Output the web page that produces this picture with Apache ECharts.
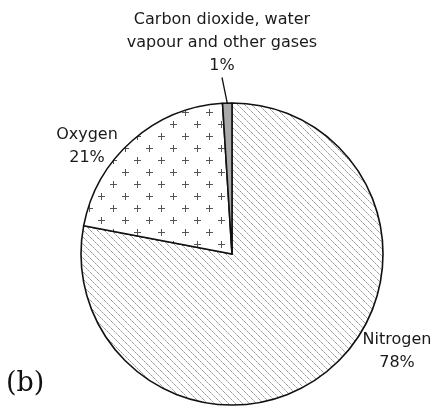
<!DOCTYPE html>
<html>
<head>
<meta charset="utf-8">
<script src="https://cdn.jsdelivr.net/npm/echarts@6/dist/echarts.min.js"></script>
<style>
  html, body { margin: 0; padding: 0; background: #fff; }
  #chart { width: 436px; height: 408px; }
</style>
</head>
<body>
<div id="chart"></div>
<script>
// Composition of air (percent by volume)
const gases = ['Nitrogen', 'Oxygen', 'Carbon dioxide, water\nvapour and other gases'];
const percents = [78, 21, 1];

// Fill textures
function hatchPattern() {
  const c = document.createElement('canvas');
  c.width = 7; c.height = 7;
  const g = c.getContext('2d');
  g.fillStyle = '#fff';
  g.fillRect(0, 0, 7, 7);
  for (let i = 0; i < 7; i++) {
    g.fillStyle = i % 2 === 0 ? '#9c9c9c' : '#c4c4c4';
    g.fillRect(i, i, 1, 1);
  }
  return c;
}
function plusPattern() {
  const c = document.createElement('canvas');
  c.width = 24; c.height = 24;
  const g = c.getContext('2d');
  g.fillStyle = '#fff';
  g.fillRect(0, 0, 24, 24);
  g.fillStyle = '#555';
  const plus = (x, y) => {
    g.fillRect(x - 3, y, 7, 1);
    g.fillRect(x, y - 3, 1, 7);
  };
  plus(5, 4);
  plus(17, 16);
  return c;
}

const fills = [
  { image: hatchPattern(), repeat: 'repeat' },
  { image: plusPattern(), repeat: 'repeat' },
  '#a9a9a9'
];

// Label anchor points (text centre) for each slice
const labelAt = [
  { x: 397, y: 351 },
  { x: 87, y: 146 },
  { x: 222, y: 43 }
];

const chart = echarts.init(document.getElementById('chart'), null, { renderer: 'canvas' });
chart.setOption({
  animation: false,
  graphic: [{
    type: 'text',
    left: 6,
    top: 370,
    style: {
      text: '(b)',
      font: '27px "DejaVu Serif", serif',
      fill: '#111'
    }
  }],
  series: [{
    type: 'pie',
    center: [232, 254],
    radius: 151,
    startAngle: 90,
    clockwise: true,
    avoidLabelOverlap: false,
    itemStyle: { borderColor: '#111', borderWidth: 1.6 },
    label: {
      show: true,
      position: 'outside',
      formatter: p => p.name + '\n' + p.value + '%',
      fontFamily: '"DejaVu Sans", sans-serif',
      fontSize: 16,
      lineHeight: 23,
      color: '#1a1a1a',
      align: 'center'
    },
    labelLine: { show: false },
    labelLayout: function (params) {
      const pos = labelAt[params.dataIndex];
      return { x: pos.x, y: pos.y, align: 'center', verticalAlign: 'middle' };
    },
    data: gases.map((name, i) => ({
      name: name,
      value: percents[i],
      itemStyle: { color: fills[i] },
      labelLine: i === 2 ? { show: true, length: 12, length2: 0, lineStyle: { color: '#111', width: 1.3 } } : { show: false }
    }))
  }]
});
</script>
</body>
</html>
